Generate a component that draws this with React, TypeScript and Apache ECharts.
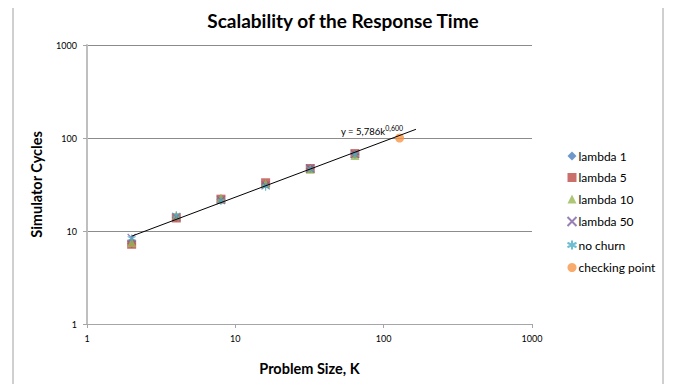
import React, { useEffect, useRef } from "react";
import * as echarts from "echarts";

const problemSizes = [2, 4, 8, 16, 32, 64];
const lambda1 = [7.3, 14, 22, 32, 47, 67];
const lambda5 = [7.2, 13.8, 22, 33, 47, 68];
const lambda10 = [7.5, 14.6, 22.6, 32.5, 46, 65];
const lambda50 = [8.4, 14.2, 21.5, 31, 47, 67];
const noChurn = [8.3, 14.8, 21, 30, 46.5, 67];
const checkingX = [128];
const checkingY = [100];
const trendX = [2, 165];
const trendY = [8.8, 124];
const trendLabel = "y = 5,786k";
const trendExp = "0,600";

const FONT = "Lato, 'Open Sans', sans-serif";

const pairs = (xs: number[], ys: number[]) => xs.map((x, i) => [x, ys[i]]);

export default function App() {
  const ref = useRef<HTMLDivElement>(null);
  useEffect(() => {
    if (!ref.current) return;
    const chart = echarts.init(ref.current, undefined, { renderer: "svg" });
    const scatter = (name: string, ys: number[], symbol: string, size: number, color: string, stroke = false) => ({
      name,
      type: "scatter",
      data: pairs(problemSizes, ys),
      symbol,
      symbolSize: size,
      itemStyle: stroke
        ? { color: "none", borderColor: color, borderWidth: 1.2 }
        : { color },
      z: 3,
    });
    const fmt = (v: number) => String(Math.round(v));
    chart.setOption({
      animation: false,
      backgroundColor: "#fff",
      textStyle: { fontFamily: FONT },
      title: {
        text: "Scalability of the Response Time",
        left: 338,
        textAlign: "center",
        top: 6,
        textStyle: { fontSize: 19, fontWeight: "bold", color: "#000", fontFamily: FONT },
      },
      grid: { left: 87, right: 142, top: 45, bottom: 68 },
      xAxis: {
        type: "log",
        logBase: 10,
        min: 1,
        max: 1000,
        name: "Problem Size, K",
        nameLocation: "middle",
        nameGap: 37,
        nameTextStyle: { fontSize: 14.5, fontWeight: "bold", color: "#000", fontFamily: FONT },
        axisLine: { lineStyle: { color: "#a6a6a6", width: 1 } },
        axisTick: { show: true, length: 4, lineStyle: { color: "#a6a6a6" } },
        axisLabel: { fontSize: 9, color: "#000", margin: 10, formatter: fmt },
        minorTick: { show: false },
        splitLine: { show: false },
      },
      yAxis: {
        type: "log",
        logBase: 10,
        min: 1,
        max: 1000,
        name: "Simulator Cycles",
        nameLocation: "middle",
        nameGap: 43,
        nameRotate: 90,
        nameTextStyle: { fontSize: 14.5, fontWeight: "bold", color: "#000", fontFamily: FONT },
        axisLine: { show: true, lineStyle: { color: "#bfbfbf", width: 2 } },
        axisTick: { show: true, length: 4, lineStyle: { color: "#a6a6a6" } },
        axisLabel: { fontSize: 9, color: "#000", margin: 10, formatter: fmt },
        splitLine: { show: true, lineStyle: { color: "#8c8c8c", width: 1 } },
      },
      legend: {
        orient: "vertical",
        left: 560,
        top: 145,
        itemWidth: 9,
        itemHeight: 9,
        itemGap: 9.5,
        textStyle: { fontSize: 12, color: "#000", fontFamily: FONT, padding: [0, 0, 0, -3] },
        data: ["lambda 1", "lambda 5", "lambda 10", "lambda 50", "no churn", "checking point"],
      },
      series: [
        {
          name: "trend",
          type: "line",
          data: pairs(trendX, trendY),
          showSymbol: false,
          symbol: "none",
          lineStyle: { color: "#000", width: 1 },
          z: 5,
          silent: true,
        },
        scatter("lambda 1", lambda1, "diamond", 9, "#4a7ebb"),
        scatter("lambda 5", lambda5, "rect", 9, "#be4b48"),
        scatter("lambda 10", lambda10, "triangle", 9, "#98b954"),
        scatter("lambda 50", lambda50, "path://M0,0L10,10M10,0L0,10", 8, "#7d60a0", true),
        scatter("no churn", noChurn, "path://M5,0L5,10M0,2.5L10,7.5M0,7.5L10,2.5", 8, "#4bacc6", true),
        {
          name: "checking point",
          type: "scatter",
          data: pairs(checkingX, checkingY),
          symbol: "circle",
          symbolSize: 9,
          itemStyle: { color: "#f79646" },
          z: 3,
        },
      ],
      graphic: [
        {
          type: "rect",
          shape: { x: 13, y: -2, width: 650, height: 392 },
          style: { fill: "none", stroke: "#a0a0a0", lineWidth: 1 },
          silent: true,
        },
        {
          type: "text",
          left: 341,
          top: 124,
          style: {
            text: "{a|" + trendLabel + "}{b|" + trendExp + "}",
            rich: {
              a: { fontSize: 9.5, fill: "#000", fontFamily: FONT, padding: [4, 0, 0, 0] },
              b: { fontSize: 7, fill: "#000", fontFamily: FONT, padding: [0, 0, 4, 0] },
            },
          },
        },
      ],
    });
    return () => chart.dispose();
  }, []);
  return <div ref={ref} style={{ width: 674, height: 392, margin: -8 }} />;
}
